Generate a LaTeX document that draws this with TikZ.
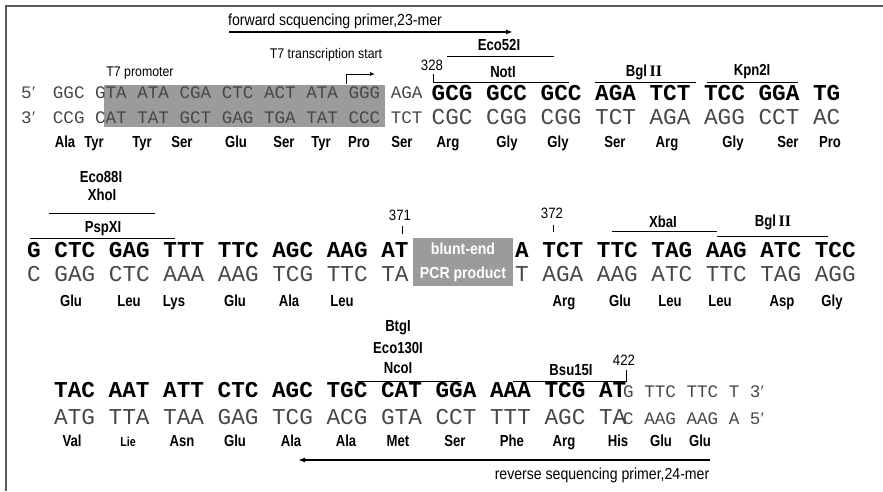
\documentclass[tikz,border=0pt]{standalone}
\usepackage{fontspec}
\setmainfont{Liberation Sans}
\setmonofont{Liberation Mono}
\newfontfamily\narrowsans[FakeStretch=0.88]{Liberation Sans}
\newfontfamily\condsans[FakeStretch=0.82]{Liberation Sans}
\newfontfamily\romfont{Liberation Serif}
\usetikzlibrary{arrows.meta}

\definecolor{boxgray}{HTML}{9B9B9B}
\definecolor{framegray}{HTML}{5A5A5A}

\newcommand\seqsmall{\fontsize{17.6}{18}\selectfont\ttfamily}
\newcommand\seqbig{\fontsize{22.7}{23}\selectfont\ttfamily}
\newcommand\romII{{\romfont\bfseries II}}
\newcommand\prm{\makebox[0.6em][l]{\romfont ′}}

\tikzset{
  strand/.style={anchor=base west, inner sep=0pt, text=black!72},
  smallstrand/.style={strand, font=\seqsmall},
  bigstrand/.style={strand, font=\seqbig},
  boldstrand/.style={strand, font=\seqbig\bfseries, text=black},
  amino/.style={anchor=base, inner sep=0pt, font=\condsans\fontsize{16}{16}\selectfont\bfseries},
  enzyme/.style={inner sep=0pt, font=\condsans\fontsize{16}{16}\selectfont\bfseries},
  note/.style={inner sep=0pt, font=\narrowsans\fontsize{14}{14}\selectfont},
  numlabel/.style={inner sep=0pt, font=\narrowsans\fontsize{15}{15}\selectfont},
  primerlabel/.style={inner sep=0pt, font=\narrowsans\fontsize{16}{16}\selectfont},
  site/.style={line width=.9pt},
  primer/.style={line width=1.8pt, -{Latex[length=7pt,width=5pt]}},
}

\begin{document}
\begin{tikzpicture}[x=1pt,y=-1pt]
\useasboundingbox (0,0) rectangle (883,491);
\draw[framegray, line width=1.6pt] (6,491) -- (6,6) -- (883,6);

% ---- first line: T7 promoter, NotI ... Kpn2I
\fill[boxgray] (104,85) rectangle (385,127);
\node[primerlabel] (fwd) at (335,21) {forward scquencing primer,23-mer};
\coordinate (fwdS) at (229,32);
\coordinate (fwdE) at (513,32);
\draw[primer] (fwdS) -- (fwdE);
\node[note] (t7p) at (140,73) {T7 promoter};
\node[note] (t7s) at (326,55) {T7 transcription start};
\coordinate (tss) at (346,84);
\draw[site, -{Latex[length=5pt,width=4pt]}] (tss) -- ++(0,-10) -- ++(29,0);

\node[numlabel] (n328) at (432,65) {328};
\node[enzyme] (eco52) at (499,45) {Eco52I};
\draw[site] (447,56) -- (554,56);
\node[enzyme] (notI) at (503,72) {NotI};
\draw[site] (433,74) -- (433,82) -- (569,82);
\node[enzyme] (bgla) at (644,72) {Bgl\,\romII};
\draw[site] (595,82) -- (696,82);
\node[enzyme] (kpn) at (752,72) {Kpn2I};
\draw[site] (707,82) -- (798,82);

\node[smallstrand] (top1a) at (21,98) {5\prm\ GGC GTA ATA CGA CTC ACT ATA GGG AGA};
\node[smallstrand] (bot1a) at (21,123.5) {3\prm\ CCG CAT TAT GCT GAG TGA TAT CCC TCT};
\node[boldstrand] (top1b) at (431.5,100) {GCG GCC GCC AGA TCT TCC GGA TG};
\node[bigstrand] (bot1b) at (431.5,124) {CGC CGG CGG TCT AGA AGG CCT AC};

\foreach \x/\t [count=\i] in {65/Ala, 94/Tyr, 142/Tyr, 182/Ser, 236/Glu, 284/Ser,
    321/Tyr, 359/Pro, 402/Ser, 448/Arg, 507/Gly, 558/Gly, 615/Ser, 667/Arg,
    733/Gly, 788/Ser, 830/Pro}
  \node[amino] (aa1-\i) at (\x,147) {\t};

% ---- second line: XhoI, blunt-end insert, XbaI, BglII
\node[enzyme] (eco88) at (101,177) {Eco88I};
\node[enzyme] (xho) at (102,195) {XhoI};
\draw[site] (49,213) -- (155,213);
\node[enzyme] (psp) at (103,229) {PspXI};
\draw[site] (30,238) -- (175,238);

\node[numlabel] (n371) at (400,215) {371};
\draw[site] (402,226) -- (402,234);
\node[numlabel] (n372) at (552,213) {372};
\draw[site] (553,225) -- (553,232);
\node[enzyme] (xba) at (663,222) {XbaI};
\draw[site] (612,231) -- (717,231);
\node[enzyme] (bglb) at (773,222) {Bgl\,\romII};
\draw[site] (717,236) -- (828,236);

\node[boldstrand] (top2a) at (27,257.5) {G CTC GAG TTT TTC AGC AAG AT};
\node[bigstrand] (bot2a) at (27,281) {C GAG CTC AAA AAG TCG TTC TA};
\node[fill=boxgray, text=white, inner sep=0pt, minimum width=100pt, minimum height=48pt,
  align=center, font=\narrowsans\fontsize{16}{24}\selectfont\bfseries] (pcr) at (463,262)
  {blunt-end\\PCR product};
\node[boldstrand] (top2b) at (515,257.5) {A TCT TTC TAG AAG ATC TCC};
\node[bigstrand] (bot2b) at (515,281) {T AGA AAG ATC TTC TAG AGG};

\foreach \x/\t [count=\i] in {71/Glu, 129/Leu, 174/Lys, 235/Glu, 289/Ala, 342/Leu,
    564/Arg, 620/Glu, 670/Leu, 720/Leu, 782/Asp, 832/Gly}
  \node[amino] (aa2-\i) at (\x,306) {\t};

% ---- third line: NcoI, Bsu15I, reverse primer
\node[enzyme] (btg) at (398,328) {BtgI};
\node[enzyme] (eco130) at (398,348) {Eco130I};
\node[enzyme] (nco) at (398,368) {NcoI};
\draw[site] (357,381) -- (462,381);
\node[enzyme] (bsu) at (571,370) {Bsu15I};
\node[numlabel] (n422) at (624,360) {422};
\draw[site] (513,381) -- (626,381) -- (626,370);

\node[boldstrand] (top3a) at (54,397) {TAC AAT ATT CTC AGC TGC CAT GGA AAA TCG AT};
\node[smallstrand] (top3b) at (623,397) {G TTC TTC T 3\prm};
\node[bigstrand] (bot3a) at (54,424.5) {ATG TTA TAA GAG TCG ACG GTA CCT TTT AGC TA};
\node[smallstrand] (bot3b) at (623,424.5) {C AAG AAG A 5\prm};

\foreach \x/\t [count=\i] in {72/Val, 182/Asn, 235/Glu, 291/Ala, 346/Ala, 398/Met,
    455/Ser, 512/Phe, 564/Arg, 618/His, 661/Glu, 700/Glu}
  \node[amino] (aa3-\i) at (\x,446.5) {\t};
\node[amino, font=\condsans\fontsize{13}{13}\selectfont\bfseries] (lie) at (128,446.5) {Lie};

\coordinate (revS) at (710,460);
\coordinate (revE) at (298,460);
\draw[primer] (revS) -- (revE);
\node[primerlabel] (rev) at (602,475) {reverse sequencing primer,24-mer};
\end{tikzpicture}
\end{document}
